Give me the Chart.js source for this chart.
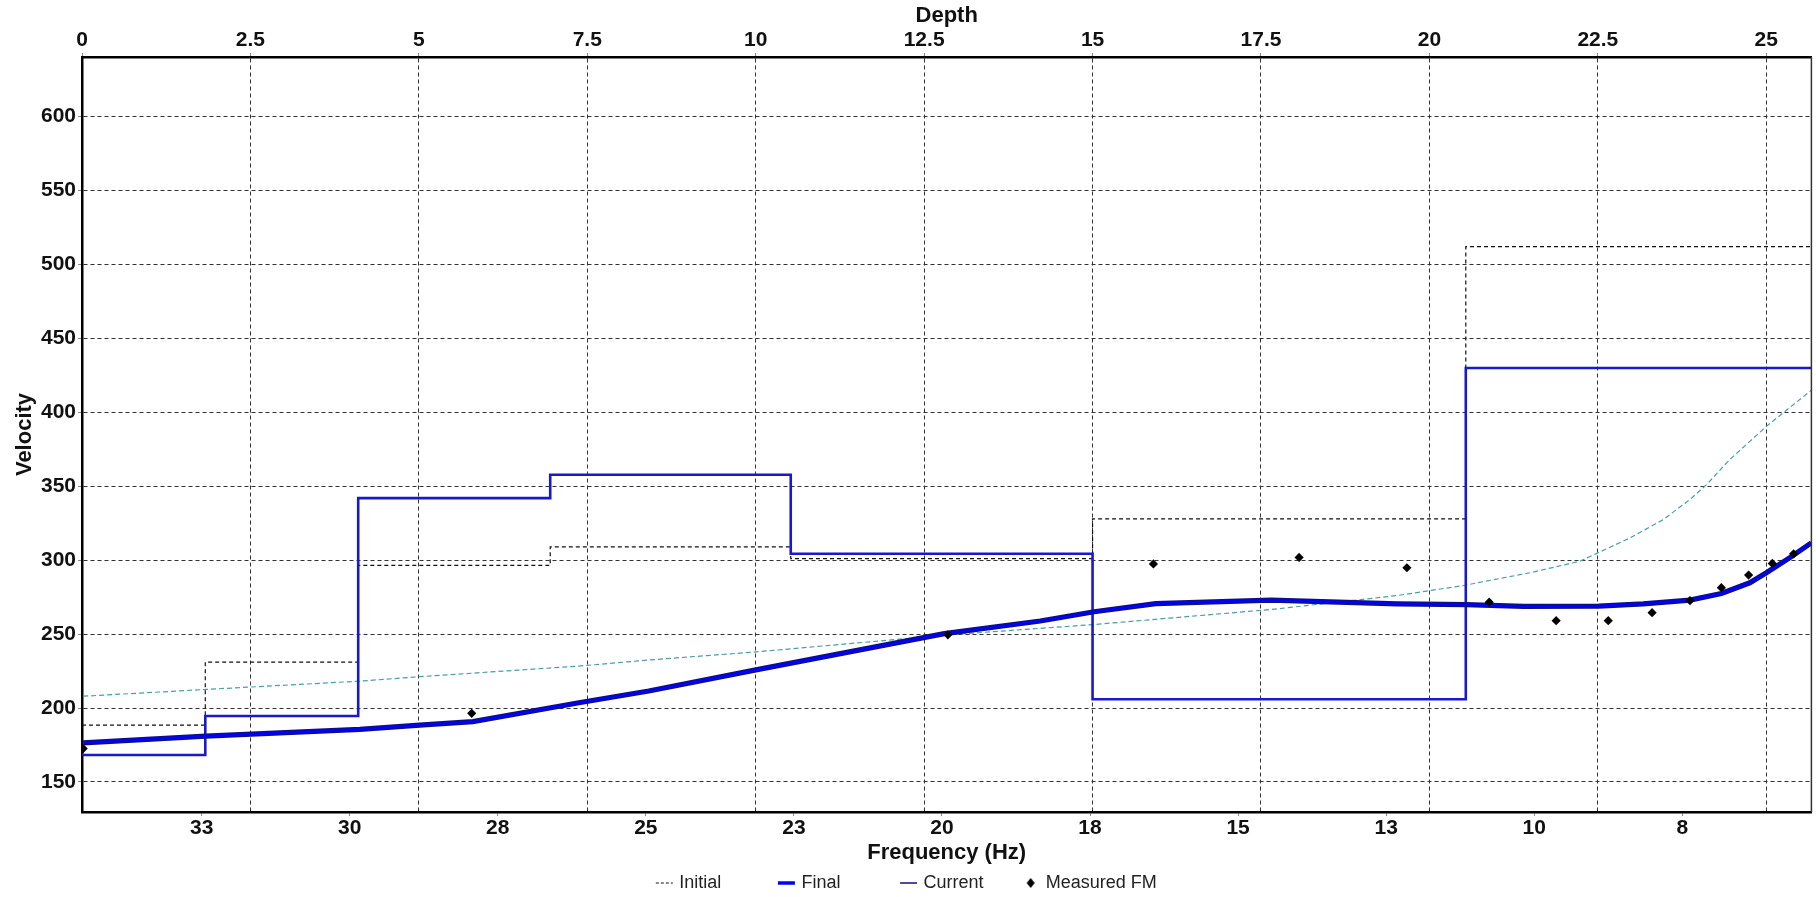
<!DOCTYPE html>
<html>
<head>
<meta charset="utf-8">
<title>Velocity / Depth</title>
<script src="https://cdn.jsdelivr.net/npm/chart.js@4.4.1/dist/chart.umd.min.js"></script>
<style>
  html, body { margin: 0; padding: 0; background: #fff; }
  canvas { display: block; }
</style>
</head>
<body>
<canvas id="velocityChart" width="1816" height="897"></canvas>
<script>
// layer model (top axis): top depth of each layer and its velocity
const layerTops = [0, 1.83, 4.1, 6.95, 10.52, 15.0, 20.54];
const initialVel = [188.5, 231, 296.5, 309, 301, 328, 512];
const finalVel = [168.2, 194.6, 342, 357.8, 304.4, 206, 430];
const maxDepth = 25.67;

// dispersion curves (bottom axis)
const finalFreq = [35.2, 33.13, 30.53, 29.52, 28.62, 26.83, 25.65, 23.82, 20.66, 19.04, 18.13, 17.09, 15.14, 13.01, 11.85, 10.88, 9.61, 8.86, 8.07, 7.54, 7.06, 6.78, 6.39, 6.02];
const finalDispVel = [176.5, 181, 185.6, 188.5, 190.8, 203.6, 211.5, 226, 250.3, 258.9, 265.1, 270.6, 273, 270.5, 269.9, 268.7, 268.9, 270.5, 273, 277.5, 284.7, 291.5, 301.6, 311.7];

const initialFreq = [35.2, 33.12, 30.53, 29.52, 26.83, 25.65, 23.83, 20.59, 18.13, 15.13, 13.01, 11.89, 10.77, 9.93, 9.08, 8.52, 8.07, 7.79, 7.4, 6.78, 6.02];
const initialDispVel = [208, 212.6, 218.2, 221.2, 228.4, 232.5, 238, 249.5, 256.5, 266.7, 276.1, 282.9, 291.5, 299.3, 315.1, 327.5, 341, 351.1, 368, 390.5, 415];

const measuredFreq = [35.2, 28.64, 20.6, 17.13, 14.67, 12.85, 11.46, 10.33, 9.45, 8.71, 8.07, 7.54, 7.08, 6.68, 6.32];
const measuredVel = [172.6, 196.4, 249.5, 297.5, 301.9, 294.9, 271.6, 259.1, 259.1, 264.5, 272.7, 281.4, 289.9, 297.8, 304.3];

// axis ticks
const depthTicks = [0, 2.5, 5, 7.5, 10, 12.5, 15, 17.5, 20, 22.5, 25];
const velocityTicks = [150, 200, 250, 300, 350, 400, 450, 500, 550, 600];
const freqTicks = [33.2, 30.7, 28.2, 25.7, 23.2, 20.7, 18.2, 15.7, 13.2, 10.7, 8.2];
const freqTickLabels = ['33', '30', '28', '25', '23', '20', '18', '15', '13', '10', '8'];

const FAMILY = "'Liberation Sans Narrow', 'Liberation Sans', Arial, sans-serif";
const tickFont = { family: FAMILY, size: 21, weight: 'bold' };
const titleFont = { family: FAMILY, size: 22, weight: 'bold' };
const legendFont = { family: FAMILY, size: 18 };

const gridDash = [4, 3];

function stepPoints(tops, vels) {
  const pts = tops.map((d, i) => ({ x: d, y: vels[i] }));
  pts.push({ x: maxDepth, y: vels[vels.length - 1] });
  return pts;
}

function curvePoints(freqs, vels) {
  return freqs.map((f, i) => ({ x: f, y: vels[i] }));
}

// small black diamond used as the legend symbol for measured points
const diamond = document.createElement('canvas');
diamond.width = 12;
diamond.height = 12;
(() => {
  const c = diamond.getContext('2d');
  c.fillStyle = '#000';
  c.beginPath();
  c.moveTo(6, 1);
  c.lineTo(10, 6);
  c.lineTo(6, 11);
  c.lineTo(2, 6);
  c.closePath();
  c.fill();
})();

// pad legend text so every entry takes the same column width
const measureCtx = document.createElement('canvas').getContext('2d');
function padLabel(text, width) {
  measureCtx.font = `${legendFont.size}px ${FAMILY}`;
  let out = text;
  while (measureCtx.measureText(out).width < width) out += '\u200A';
  return out;
}

const legendItems = [
  { text: padLabel('Initial', 92), pointStyle: 'line', strokeStyle: '#111', lineWidth: 1.2, lineDash: [3, 2] },
  { text: padLabel('Final', 92), pointStyle: 'line', strokeStyle: '#0000ff', lineWidth: 3.5 },
  { text: padLabel('Current', 92), pointStyle: 'line', strokeStyle: '#10107a', lineWidth: 1.5 },
  { text: 'Measured FM', pointStyle: diamond, strokeStyle: '#000', fillStyle: '#000', lineWidth: 0 }
].map((item, i) => ({ fillStyle: 'transparent', hidden: false, datasetIndex: i, fontColor: '#222', ...item }));

// right edge of the plot frame
const frameRight = {
  id: 'frameRight',
  afterDraw(chart) {
    const { ctx, chartArea } = chart;
    ctx.save();
    ctx.strokeStyle = '#333';
    ctx.lineWidth = 1.5;
    ctx.beginPath();
    ctx.moveTo(chartArea.right, chartArea.top);
    ctx.lineTo(chartArea.right, chartArea.bottom);
    ctx.stroke();
    ctx.restore();
  }
};

const chart = new Chart(document.getElementById('velocityChart'), {
  type: 'scatter',
  data: {
    datasets: [
      {
        label: 'Measured FM',
        data: curvePoints(measuredFreq, measuredVel),
        xAxisID: 'freq',
        pointStyle: 'rectRot',
        pointRadius: 4.6,
        backgroundColor: '#000',
        borderColor: '#000',
        borderWidth: 0
      },
      {
        label: 'Final',
        data: curvePoints(finalFreq, finalDispVel),
        xAxisID: 'freq',
        showLine: true,
        borderColor: '#0000ff',
        borderWidth: 2.6,
        pointRadius: 0
      },
      {
        label: 'Current',
        data: curvePoints(finalFreq, finalDispVel),
        xAxisID: 'freq',
        showLine: true,
        borderColor: '#10107a',
        borderWidth: 5.2,
        pointRadius: 0
      },
      {
        label: 'Final profile',
        data: stepPoints(layerTops, finalVel),
        xAxisID: 'depth',
        showLine: true,
        stepped: true,
        borderColor: '#1818cc',
        borderWidth: 2.6,
        pointRadius: 0
      },
      {
        label: 'Initial profile',
        data: stepPoints(layerTops, initialVel),
        xAxisID: 'depth',
        showLine: true,
        stepped: true,
        borderColor: '#111',
        borderWidth: 1.2,
        borderDash: [4, 3],
        pointRadius: 0
      },
      {
        label: 'Initial dispersion',
        data: curvePoints(initialFreq, initialDispVel),
        xAxisID: 'freq',
        showLine: true,
        borderColor: '#4a9f9f',
        borderWidth: 1.2,
        borderDash: [5, 3],
        pointRadius: 0
      }
    ]
  },
  options: {
    responsive: false,
    animation: false,
    devicePixelRatio: 1,
    layout: { padding: { top: 0, left: 0, right: 1, bottom: -5 } },
    plugins: {
      tooltip: { enabled: false },
      legend: {
        position: 'bottom',
        onClick: null,
        labels: {
          usePointStyle: true,
          boxWidth: 12,
          boxHeight: 12,
          padding: 8,
          color: '#222',
          font: legendFont,
          generateLabels: () => legendItems
        }
      }
    },
    scales: {
      depth: {
        type: 'linear',
        position: 'top',
        min: 0,
        max: maxDepth,
        afterBuildTicks: (s) => { s.ticks = depthTicks.map((v) => ({ value: v })); },
        afterFit: (s) => { s.height = 57; },
        title: { display: true, text: 'Depth', color: '#111', font: titleFont, padding: { top: 3, bottom: 0 } },
        ticks: { font: tickFont, color: '#111', padding: 0, maxRotation: 0, autoSkip: false, callback: (v) => String(v) },
        grid: { color: '#333', lineWidth: 1, tickLength: 4, tickColor: '#888', tickBorderDash: [] },
        border: { color: '#000', width: 2.5, dash: gridDash }
      },
      freq: {
        type: 'linear',
        position: 'bottom',
        reverse: true,
        min: 6.02,
        max: 35.22,
        afterBuildTicks: (s) => { s.ticks = freqTicks.map((v) => ({ value: v })); },
        afterFit: (s) => { s.height = 54; },
        title: { display: true, text: 'Frequency (Hz)', color: '#111', font: titleFont, padding: { top: 0, bottom: 0 } },
        ticks: { font: tickFont, color: '#111', padding: 0, maxRotation: 0, autoSkip: false, callback: (v, i) => freqTickLabels[i] },
        grid: { drawOnChartArea: false, tickLength: 4, tickColor: '#888' },
        border: { color: '#000', width: 2.5 }
      },
      y: {
        type: 'linear',
        position: 'left',
        min: 129.7,
        max: 640.3,
        afterBuildTicks: (s) => { s.ticks = velocityTicks.map((v) => ({ value: v })); },
        afterFit: (s) => { s.width = 82; },
        title: { display: true, text: 'Velocity', color: '#111', font: titleFont, padding: { top: 12, bottom: 0 } },
        ticks: { font: tickFont, color: '#111', padding: 2 },
        grid: { color: '#333', lineWidth: 1, tickLength: 4, tickColor: '#888', tickBorderDash: [] },
        border: { color: '#000', width: 2.5, dash: gridDash }
      }
    }
  },
  plugins: [frameRight]
});
</script>
</body>
</html>
